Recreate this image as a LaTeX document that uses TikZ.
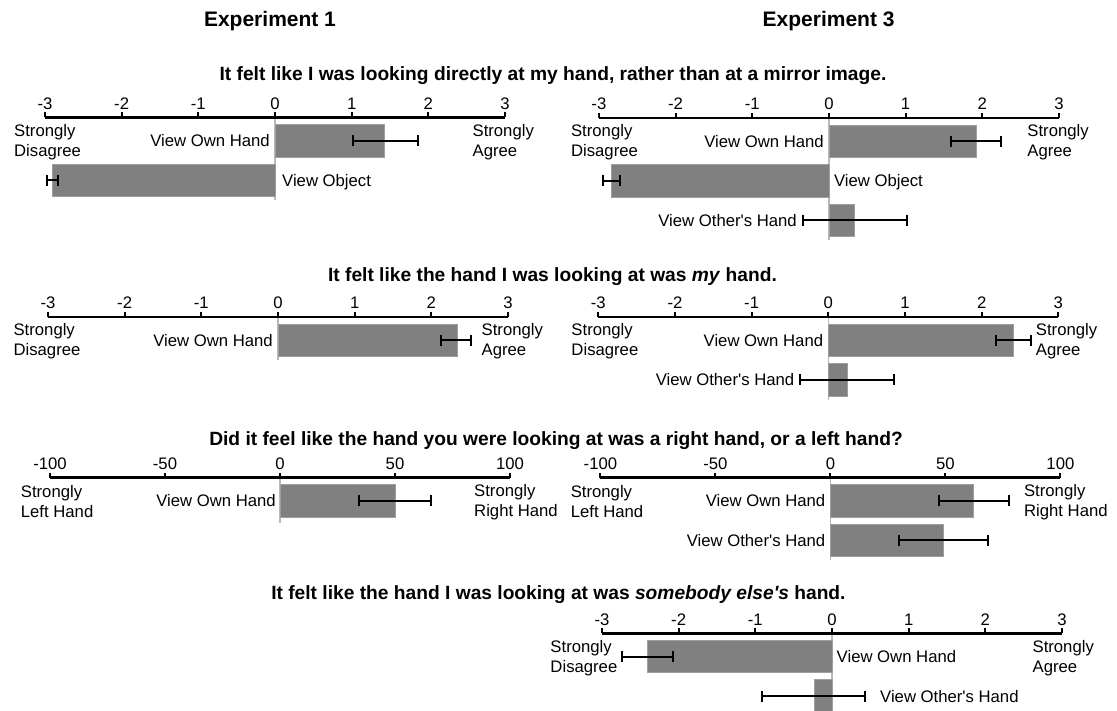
\documentclass[tikz,border=0pt]{standalone}
\usepackage{fontspec}
\setmainfont{Liberation Sans}
\usetikzlibrary{arrows.meta}
\definecolor{barfill}{RGB}{128,128,128}
\definecolor{barline}{RGB}{158,158,158}
\definecolor{zeroline}{RGB}{185,185,185}
\newcommand{\apos}{\textquotesingle}

\begin{document}
\begin{tikzpicture}[
    x=1pt, y=-1pt,
    every node/.style={inner sep=0pt, font=\fontsize{16.7}{20}\selectfont},
    num/.style={text height=12pt, text depth=0pt},
    lbl/.style={text height=12pt, text depth=0pt},
    ends/.style={align=left},
    question/.style={font=\bfseries\fontsize{19.2}{23}\selectfont, text height=13.7pt, text depth=0pt},
    header/.style={font=\bfseries\fontsize{21}{25}\selectfont, text height=15pt, text depth=0pt},
    bar/.style={fill=barfill, draw=barline, line width=0.8pt},
    err/.style={line width=2pt, {Bar[width=11pt]}-{Bar[width=11pt]}},
    scale line/.style={line width=2.6pt},
    tick mark/.style={line width=2pt},
    zero/.style={draw=zeroline, line width=1.4pt}
  ]
  \useasboundingbox (0,0) rectangle (1117,711);

  % Headers and questions
  \node[header] (exp1) at (270,19)    {Experiment 1};
  \node[header] (exp3) at (828.6,19)  {Experiment 3};
  \node[question] (q1) at (553,74)    {It felt like I was looking directly at my hand, rather than at a mirror image.};
  \node[question] (q2) at (552.5,275) {It felt like the hand I was looking at was \textit{my} hand.};
  \node[question] (q3) at (556,438.3) {Did it feel like the hand you were looking at was a right hand, or a left hand?};
  \node[question] (q4) at (558.4,593) {It felt like the hand I was looking at was \textit{somebody else\apos s} hand.};

  % Question 1, Experiment 1
  \begin{scope}[shift={(275,117.5)}, x=76.67pt]
    \draw[zero] (0,0) -- (0,82.5);
    \draw[bar] (0,7) rectangle (1.43,39.5);
    \draw[bar] (0,46.5) rectangle (-2.897,79);
    \draw[err] (1.0,23.25) -- (1.873,23.25);
    \draw[err] (-2.99,62.75) -- (-2.82,62.75);
    \draw[scale line] (-3,0) -- (3,0);
    \foreach \t in {-3,...,3} {
      \draw[tick mark] (\t,0) -- (\t,-5);
      \node[num] (a1\t) at (\t,-14) {\t};
    }
    \node[lbl, anchor=east] (a1own) at ([xshift=-5pt]0,23.25) {View Own Hand};
    \node[lbl, anchor=west] (a1obj) at ([xshift=7pt]0,62.75)  {View Object};
    \node[ends, anchor=west] (a1lo) at ([xshift=-31pt]-3,24.5)  {Strongly\\Disagree};
    \node[ends, anchor=west] (a1hi) at ([xshift=-32.6pt]3,24.5) {Strongly\\Agree};
  \end{scope}

  % Question 1, Experiment 3
  \begin{scope}[shift={(828.9,118)}, x=76.67pt]
    \draw[zero] (0,0) -- (0,122);
    \draw[bar] (0,7) rectangle (1.93,39.5);
    \draw[bar] (0,46.5) rectangle (-2.838,79);
    \draw[bar] (0,86) rectangle (0.335,118.5);
    \draw[err] (1.583,23.25) -- (2.262,23.25);
    \draw[err] (-2.965,62.75) -- (-2.717,62.75);
    \draw[err] (-0.356,102.25) -- (1.032,102.25);
    \draw[scale line] (-3,0) -- (3,0);
    \foreach \t in {-3,...,3} {
      \draw[tick mark] (\t,0) -- (\t,-5);
      \node[num] (b1\t) at (\t,-14) {\t};
    }
    \node[lbl, anchor=east] (b1own) at ([xshift=-5pt]0,23.25)       {View Own Hand};
    \node[lbl, anchor=west] (b1obj) at ([xshift=5pt]0,62.75)        {View Object};
    \node[lbl, anchor=east] (b1oth) at ([xshift=-4.6pt]-0.356,102.25) {View Other\apos s Hand};
    \node[ends, anchor=west] (b1lo) at ([xshift=-28pt]-3,24.5)   {Strongly\\Disagree};
    \node[ends, anchor=west] (b1hi) at ([xshift=-31.7pt]3,24.5)  {Strongly\\Agree};
  \end{scope}

  % Question 2, Experiment 1
  \begin{scope}[shift={(278,317)}, x=76.67pt]
    \draw[zero] (0,0) -- (0,43);
    \draw[bar] (0,7) rectangle (2.336,39.5);
    \draw[err] (2.118,23.25) -- (2.532,23.25);
    \draw[scale line] (-3,0) -- (3,0);
    \foreach \t in {-3,...,3} {
      \draw[tick mark] (\t,0) -- (\t,-5);
      \node[num] (a2\t) at (\t,-14) {\t};
    }
    \node[lbl, anchor=east] (a2own) at ([xshift=-5pt]0,23.25) {View Own Hand};
    \node[ends, anchor=west] (a2lo) at ([xshift=-34.6pt]-3,24.5) {Strongly\\Disagree};
    \node[ends, anchor=west] (a2hi) at ([xshift=-26.5pt]3,24.5)  {Strongly\\Agree};
  \end{scope}

  % Question 2, Experiment 3
  \begin{scope}[shift={(828.3,317)}, x=76.67pt]
    \draw[zero] (0,0) -- (0,82.5);
    \draw[bar] (0,7) rectangle (2.42,39.5);
    \draw[bar] (0,46.5) rectangle (0.245,79);
    \draw[err] (2.176,23.25) -- (2.653,23.25);
    \draw[err] (-0.386,62.75) -- (0.867,62.75);
    \draw[scale line] (-3,0) -- (3,0);
    \foreach \t in {-3,...,3} {
      \draw[tick mark] (\t,0) -- (\t,-5);
      \node[num] (b2\t) at (\t,-14) {\t};
    }
    \node[lbl, anchor=east] (b2own) at ([xshift=-5pt]0,23.25)        {View Own Hand};
    \node[lbl, anchor=east] (b2oth) at ([xshift=-4.3pt]-0.386,62.75) {View Other\apos s Hand};
    \node[ends, anchor=west] (b2lo) at ([xshift=-27pt]-3,24.5)   {Strongly\\Disagree};
    \node[ends, anchor=west] (b2hi) at ([xshift=-22.6pt]3,24.5)  {Strongly\\Agree};
  \end{scope}

  % Question 3, Experiment 1
  \begin{scope}[shift={(280,477.5)}, x=2.3pt]
    \draw[zero] (0,0) -- (0,45.5);
    \draw[bar] (0,7) rectangle (50.3,39.5);
    \draw[err] (34.0,23.25) -- (66.1,23.25);
    \draw[scale line] (-100,0) -- (100,0);
    \foreach \t in {-100,-50,...,100} {
      \draw[tick mark] (\t,0) -- (\t,-5);
      \node[num] (a3\t) at (\t,-14) {\t};
    }
    \node[lbl, anchor=east] (a3own) at ([xshift=-4pt]0,23.25) {View Own Hand};
    \node[ends, anchor=west] (a3lo) at ([xshift=-29.3pt]-100,24.5) {Strongly\\Left Hand};
    \node[ends, anchor=west] (a3hi) at ([xshift=-36pt]100,24.5)    {Strongly\\Right Hand};
  \end{scope}

  % Question 3, Experiment 3
  \begin{scope}[shift={(830.4,477.5)}, x=2.3pt]
    \draw[zero] (0,0) -- (0,82);
    \draw[bar] (0,7) rectangle (62.3,39.5);
    \draw[bar] (0,46.5) rectangle (49.3,79);
    \draw[err] (46.7,23.25) -- (78.2,23.25);
    \draw[err] (29.6,62.75) -- (69.1,62.75);
    \draw[scale line] (-100,0) -- (100,0);
    \foreach \t in {-100,-50,...,100} {
      \draw[tick mark] (\t,0) -- (\t,-5);
      \node[num] (b3\t) at (\t,-14) {\t};
    }
    \node[lbl, anchor=east] (b3own) at ([xshift=-5pt]0,23.25) {View Own Hand};
    \node[lbl, anchor=east] (b3oth) at ([xshift=-5pt]0,62.75) {View Other\apos s Hand};
    \node[ends, anchor=west] (b3lo) at ([xshift=-29.8pt]-100,24.5) {Strongly\\Left Hand};
    \node[ends, anchor=west] (b3hi) at ([xshift=-36.5pt]100,24.5)  {Strongly\\Right Hand};
  \end{scope}

  % Question 4, Experiment 3
  \begin{scope}[shift={(832,633.3)}, x=76.67pt]
    \draw[zero] (0,0) -- (0,78);
    \draw[bar] (0,7) rectangle (-2.41,39.5);
    \draw[bar] (0,46.5) rectangle (-0.235,79);
    \draw[err] (-2.75,23.25) -- (-2.06,23.25);
    \draw[err] (-0.926,62.75) -- (0.443,62.75);
    \draw[scale line] (-3,0) -- (3,0);
    \foreach \t in {-3,...,3} {
      \draw[tick mark] (\t,0) -- (\t,-5);
      \node[num] (b4\t) at (\t,-14) {\t};
    }
    \node[lbl, anchor=west] (b4own) at ([xshift=4.5pt]0,23.25)      {View Own Hand};
    \node[lbl, anchor=west] (b4oth) at ([xshift=14pt]0.443,62.75)   {View Other\apos s Hand};
    \node[ends, anchor=west] (b4lo) at ([xshift=-51.7pt]-3,24.5)  {Strongly\\Disagree};
    \node[ends, anchor=west] (b4hi) at ([xshift=-29.6pt]3,24.5)   {Strongly\\Agree};
  \end{scope}

\end{tikzpicture}
\end{document}
